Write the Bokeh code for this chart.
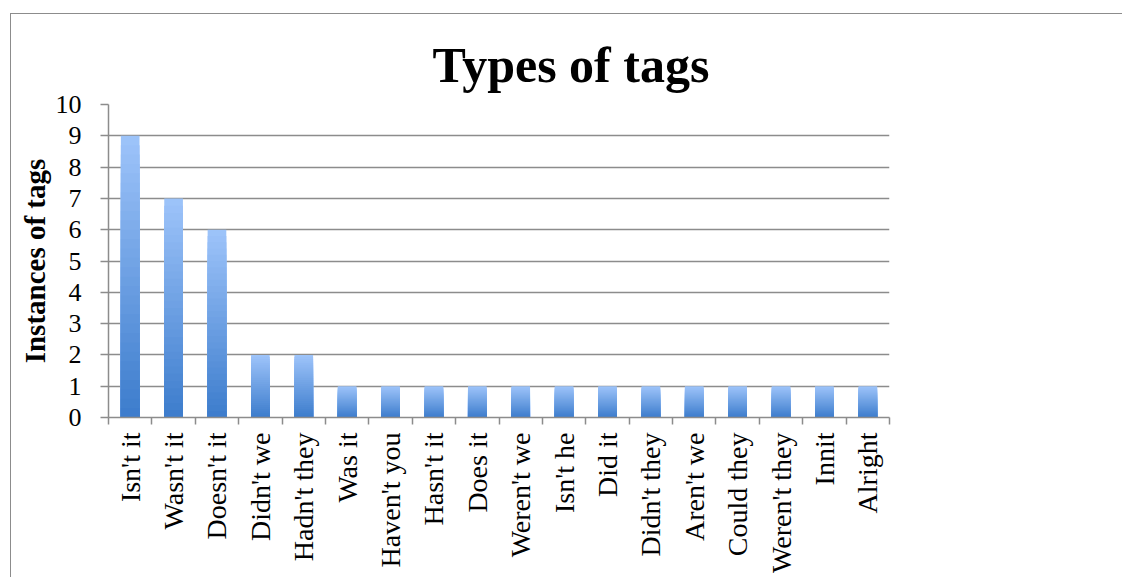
import math
from bokeh.plotting import figure
from bokeh.models import (FactorRange, Range1d, LinearAxis, CategoricalAxis,
                          FixedTicker, ColumnDataSource)
from bokeh.embed import file_html
from bokeh.resources import INLINE

# ---- data ----
categories = ["Isn't it", "Wasn't it", "Doesn't it", "Didn't we", "Hadn't they",
              "Was it", "Haven't you", "Hasn't it", "Does it", "Weren't we",
              "Isn't he", "Did it", "Didn't they", "Aren't we", "Could they",
              "Weren't they", "Innit", "Alright"]
values = [9, 7, 6, 2, 2, 1, 1, 1, 1, 1, 1, 1, 1, 1, 1, 1, 1, 1]
y_ticks = [0, 1, 2, 3, 4, 5, 6, 7, 8, 9, 10]
title_text = "Types of tags"
y_label = "Instances of tags"

GRAY = "#8c8c8c"
SERIF = "Liberation Serif"
TOP_RGB = (158, 196, 250)
BOT_RGB = (60, 124, 204)
N_SLICES = 30

# gradient: for each bar, stacked-from-zero rectangles, tallest (lightest) first
xs, tops, colors = [], [], []
for cat, v in zip(categories, values):
    for k in range(N_SLICES - 1, -1, -1):
        f1 = (k + 1) / N_SLICES
        t = (k + 0.5) / N_SLICES
        rgb = tuple(int(round(BOT_RGB[j] + (TOP_RGB[j] - BOT_RGB[j]) * t)) for j in range(3))
        xs.append(cat)
        tops.append(v * f1)
        colors.append("#%02x%02x%02x" % rgb)
src = ColumnDataSource(dict(x=xs, top=tops, color=colors))

p = figure(x_range=FactorRange(*categories, range_padding=0),
           y_range=Range1d(y_ticks[0], y_ticks[-1]),
           width=1112, height=564, output_backend="svg", toolbar_location=None,
           x_axis_location=None,
           min_border_left=97, min_border_top=90, min_border_right=234,
           min_border_bottom=161)
p.margin = (13, 0, 0, 10)
p.styles = {"border-top": "1.5px solid #8c8c8c", "border-left": "1.5px solid #8c8c8c"}
p.outline_line_color = None
p.background_fill_color = "white"
p.border_fill_color = "white"

p.vbar(x="x", bottom=0, top="top", width=0.43, fill_color="color",
       line_color=None, source=src)

# title
p.title.text = title_text
p.title.text_font = SERIF
p.title.text_font_style = "bold"
p.title.text_font_size = "50px"
p.title.text_color = "black"
p.title.align = "left"
p.title.offset = 324
p.title.standoff = 23

# grid
p.xgrid.grid_line_color = None
p.ygrid.ticker = FixedTicker(ticks=y_ticks)
p.ygrid.grid_line_color = GRAY
p.ygrid.grid_line_width = 1.5

# y axis
ya = p.yaxis[0]
ya.ticker = FixedTicker(ticks=y_ticks)
ya.axis_line_color = GRAY
ya.axis_line_width = 1.5
ya.major_tick_line_color = GRAY
ya.major_tick_line_width = 1.5
ya.major_tick_out = 8
ya.major_tick_in = 0
ya.minor_tick_line_color = None
ya.major_label_text_font = SERIF
ya.major_label_text_font_size = "26px"
ya.major_label_text_color = "black"
ya.major_label_standoff = 19
ya.axis_label = y_label
ya.axis_label_text_font = SERIF
ya.axis_label_text_font_style = "bold"
ya.axis_label_text_font_size = "29px"
ya.axis_label_text_color = "black"
ya.axis_label_standoff = 2

# x boundary ticks (between categories, in the factor range's synthetic coordinates)
boundaries = list(range(len(categories) + 1))
tick_axis = LinearAxis(ticker=FixedTicker(ticks=boundaries),
                       axis_line_color=GRAY, axis_line_width=1.5,
                       major_tick_line_color=GRAY, major_tick_line_width=1.5,
                       major_tick_out=7, major_tick_in=0,
                       minor_tick_line_color=None,
                       major_label_text_font_size="1px",
                       major_label_text_alpha=0, major_label_standoff=0)
p.add_layout(tick_axis, "below")

cat_axis = CategoricalAxis(axis_line_color=None, major_tick_line_color=None,
                           minor_tick_line_color=None,
                           major_label_orientation=math.pi / 2,
                           major_label_text_font=SERIF,
                           major_label_text_font_size="28px",
                           major_label_text_color="black",
                           major_label_standoff=2)
p.add_layout(cat_axis, "below")

open("out.html", "w").write(file_html(p, INLINE))
